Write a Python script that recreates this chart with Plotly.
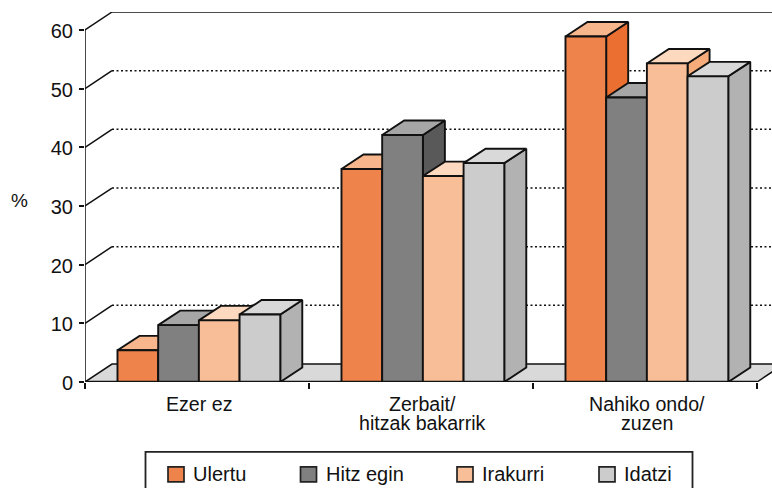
import plotly.graph_objects as go

categories = [["Ezer ez"], ["Zerbait/", "hitzak bakarrik"], ["Nahiko ondo/", "zuzen"]]
series_names = ["Ulertu", "Hitz egin", "Irakurri", "Idatzi"]
ulertu = [5.4, 36.3, 58.9]
hitz_egin = [9.7, 42.1, 48.5]
irakurri = [10.5, 35.1, 54.3]
idatzi = [11.5, 37.3, 52.1]
y_ticks = [0, 10, 20, 30, 40, 50, 60]

front_colors = ["#EE834B", "#808080", "#F8BE97", "#CCCCCC"]
top_colors = ["#F7B68C", "#A6A6A6", "#FCD9BF", "#D9D9D9"]
side_colors = ["#EB6F30", "#595959", "#F5AC7A", "#B2B2B2"]
INK = "#111111"
FONT = "Liberation Sans, Arial, sans-serif"
FS = 20
LW = 1.9

values = [ulertu, hitz_egin, irakurri, idatzi]
n_cat = len(categories)

# geometry in axis units
L, R, T, B = 85, 0, 12, 105.5
W, H = 772, 488
PX_X = 224.0
PX_Y = 5.875
wall_dx, wall_dy = 27 / PX_X, 18 / PX_Y
bar_dx, bar_dy = 22 / PX_X, 14.5 / PX_Y
bar_w = 40.7 / PX_X
bar_start = 0.145
x_max = (W - L - R) / PX_X
y_max = (H - T - B) / PX_Y

fig = go.Figure()


def poly(xs, ys, fill, z, width=LW, color=INK, dash=None):
    fig.add_trace(go.Scatter(x=xs, y=ys, mode="lines", fill="toself" if fill else None,
                             fillcolor=fill, line=dict(color=color, width=width, dash=dash),
                             hoverinfo="skip", showlegend=False, zorder=z, cliponaxis=True))


# floor
poly([0, n_cat, n_cat + wall_dx, wall_dx, 0], [0, 0, wall_dy, wall_dy, 0], "#D9D9D9", 0, width=1.5)
# walls / gridlines
for t in y_ticks[1:]:
    poly([0, wall_dx], [t, t + wall_dy], None, 0, width=1.5)
    poly([wall_dx, n_cat + wall_dx], [t + wall_dy] * 2, None, 0, width=1.5,
         dash=None if t == y_ticks[-1] else "2px 2.5px")

for s, vals in enumerate(values):
    sx, sy, tx, ty, bx = [], [], [], [], []
    for g, v in enumerate(vals):
        x0 = g + bar_start + s * bar_w
        x1 = x0 + bar_w
        bx.append((x0 + x1) / 2)
        sx += [x1, x1 + bar_dx, x1 + bar_dx, x1, x1, None]
        sy += [0, bar_dy, v + bar_dy, v, 0, None]
        tx += [x0, x0 + bar_dx, x1 + bar_dx, x1, x0, None]
        ty += [v, v + bar_dy, v + bar_dy, v, v, None]
    z = 2 * s + 1
    poly(sx, sy, side_colors[s], z)
    poly(tx, ty, top_colors[s], z)
    fig.add_trace(go.Bar(x=bx, y=vals, width=bar_w, name=series_names[s],
                         marker=dict(color=front_colors[s], line=dict(color=INK, width=LW)),
                         showlegend=False, zorder=z + 1))

# axis lines
ax_top = 20
fig.add_trace(go.Scatter(x=[0, 0], y=[0, y_ticks[-1]], mode="lines", line=dict(color=INK, width=1.5),
                         cliponaxis=False, showlegend=False, hoverinfo="skip", zorder=ax_top))
fig.add_trace(go.Scatter(x=[0, n_cat], y=[0, 0], mode="lines", line=dict(color=INK, width=2.4),
                         cliponaxis=False, showlegend=False, hoverinfo="skip", zorder=ax_top))

annotations = [dict(text="%", xref="paper", yref="paper", x=(19.5 - L) / (W - L), y=(H - B - 201) / (H - T - B),
                    xanchor="center", yanchor="middle",
                    showarrow=False, font=dict(family=FONT, size=FS - 1, color="#111"))]
for i, lines in enumerate(categories):
    for j, line in enumerate(lines):
        annotations.append(dict(text=line, x=i + 0.5 + 1.5 / PX_X, y=0, xref="x", yref="y", yanchor="middle",
                                xanchor="center", yshift=-(22 + 18.5 * j), showarrow=False,
                                font=dict(family=FONT, size=FS - 0.4, color="#111")))

# legend
def px(x):
    return (x - L) / (W - L)

def py(y):
    return (H - B - y) / (H - T - B)

shapes = [dict(type="rect", xref="paper", yref="paper", x0=px(145.5), x1=px(692.5), y0=py(452.5), y1=py(510),
               line=dict(color="#222", width=1.8), fillcolor="white")]
swatch_x = [168, 300.5, 457, 599]
for name, sxp, col in zip(series_names, swatch_x, front_colors):
    shapes.append(dict(type="rect", xref="paper", yref="paper", x0=px(sxp), x1=px(sxp + 16),
                       y0=py(482.5), y1=py(467.5), fillcolor=col, line=dict(color="#222", width=1.7)))
    annotations.append(dict(text=name, xref="paper", yref="paper", x=px(sxp + 23), y=py(475),
                            xanchor="left", yanchor="middle", showarrow=False,
                            font=dict(family=FONT, size=FS, color="#111")))

fig.update_layout(
    width=W, height=H, margin=dict(l=L, r=R, t=T, b=B, autoexpand=False),
    paper_bgcolor="white", plot_bgcolor="white", barmode="overlay", showlegend=False,
    annotations=annotations, shapes=shapes,
    font=dict(family=FONT, size=FS, color="#111"),
    xaxis=dict(range=[0, x_max], tickmode="array", tickvals=list(range(n_cat + 1)), ticktext=[""] * (n_cat + 1),
               ticks="outside", ticklen=6, tickwidth=1.5, tickcolor=INK, showgrid=False, zeroline=False,
               showline=False, fixedrange=True),
    yaxis=dict(range=[0, y_max], tickmode="array", tickvals=y_ticks, ticks="outside", ticklen=5, tickwidth=1.5,
               tickcolor=INK, showgrid=False, zeroline=False, showline=False, fixedrange=True,
               ticklabelstandoff=2, ticklabelshift=1,
               tickfont=dict(family=FONT, size=FS, color="#111")),
)
fig.write_html("out.html", config=dict(displayModeBar=False),
               post_script="document.body.style.margin='0';document.body.style.overflow='hidden';")
